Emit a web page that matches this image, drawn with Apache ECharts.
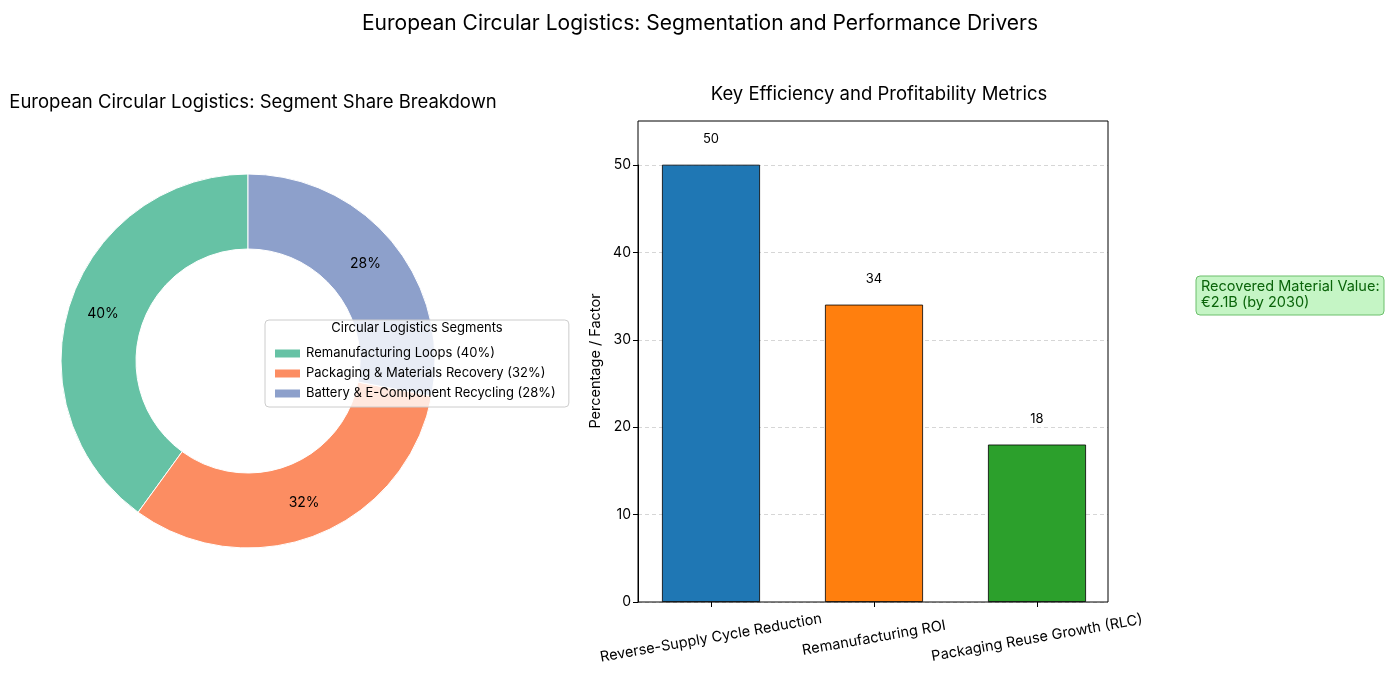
<!DOCTYPE html>
<html><head><meta charset="utf-8">
<script src="https://cdn.jsdelivr.net/npm/echarts@6/dist/echarts.min.js"></script>
<style>html,body{margin:0;padding:0;background:#fff}#c{width:1400px;height:700px}</style>
</head><body><div id="c"></div>
<script>
const segmentNames = ['Remanufacturing Loops (40%)', 'Packaging & Materials Recovery (32%)', 'Battery & E-Component Recycling (28%)'];
const segmentShares = [40, 32, 28];
const segmentColors = ['#66c2a5', '#fc8d62', '#8da0cb'];
const metricNames = ['Reverse-Supply Cycle Reduction', 'Remanufacturing ROI', 'Packaging Reuse Growth (RLC)'];
const metricValues = [50, 34, 18];
const metricColors = ['#1f77b4', '#ff7f0e', '#2ca02c'];

const FONT = 'Inter';
const chart = echarts.init(document.getElementById('c'));
chart.setOption({
  animation: false,
  textStyle: { fontFamily: FONT },
  title: [
    { text: 'European Circular Logistics: Segmentation and Performance Drivers', left: 'center', top: 8,
      textStyle: { fontSize: 21, fontWeight: 'normal', color: '#000', fontFamily: FONT } },
    { text: 'European Circular Logistics: Segment Share Breakdown', left: 248, textAlign: 'center', top: 88,
      textStyle: { fontSize: 18.5, fontWeight: 'normal', color: '#000', fontFamily: FONT } },
    { text: 'Key Efficiency and Profitability Metrics', left: 874, textAlign: 'center', top: 80,
      textStyle: { fontSize: 18.5, fontWeight: 'normal', color: '#000', fontFamily: FONT } }
  ],
  legend: {
    data: segmentNames, orient: 'vertical', left: 265, top: 320,
    itemWidth: 27, itemHeight: 10, itemGap: 7, icon: 'rect',
    padding: [27, 13, 7, 8],
    backgroundColor: 'rgba(255,255,255,0.8)', borderColor: '#cccccc', borderWidth: 1, borderRadius: 4,
    textStyle: { fontSize: 13, color: '#000', fontFamily: FONT },
    selectedMode: false, z: 10
  },
  grid: [
    { left: 638, top: 165, width: 470, height: 437 },
    { left: 629.5, top: 121, width: 489, height: 481 }
  ],
  xAxis: [
    { gridIndex: 0, type: 'value', min: 0, max: 1, show: false },
    { gridIndex: 1, type: 'category', data: metricNames,
      axisLine: { show: false },
      axisTick: { show: true, alignWithLabel: true, length: 5, lineStyle: { color: '#000' } },
      axisLabel: { rotate: 10, align: 'center', verticalAlign: 'middle', margin: 36, fontSize: 14.5, color: '#000', fontFamily: FONT, interval: 0 } }
  ],
  yAxis: [
    { gridIndex: 0, type: 'value', min: 0, max: 50, interval: 10,
      axisLine: { show: true, lineStyle: { color: '#000' } },
      axisTick: { show: true, length: 5, lineStyle: { color: '#000' } },
      axisLabel: { fontSize: 14, color: '#000', margin: 7, fontFamily: FONT },
      splitLine: { show: true, lineStyle: { color: '#cccccc', type: [4, 3], width: 0.8 } } },
    { gridIndex: 1, type: 'value', min: 0, max: 55, show: false }
  ],
  series: [
    {
      type: 'pie', center: [248, 361], radius: [112, 187], startAngle: 90, clockwise: false,
      data: segmentNames.map((n, i) => ({ name: n, value: segmentShares[i], itemStyle: { color: segmentColors[i] } })),
      itemStyle: { borderColor: '#fff', borderWidth: 1 },
      label: { show: true, position: 'inside', formatter: p => p.value + '%', fontSize: 14, color: '#000', fontFamily: FONT },
      labelLine: { show: false }, emphasis: { disabled: true }, z: 1
    },
    {
      type: 'bar', xAxisIndex: 1, yAxisIndex: 1, barWidth: 98,
      data: metricValues.map((v, i) => ({ value: v, itemStyle: { color: metricColors[i] } })),
      itemStyle: { borderColor: '#000', borderWidth: 0.8 },
      label: { show: true, position: 'top', distance: 19, fontSize: 13, color: '#000', fontFamily: FONT },
      z: 3
    }
  ],
  graphic: [
    { type: 'text', x: 417, y: 322, z: 100, style: { text: 'Circular Logistics Segments', fontSize: 13, fill: '#000', fontFamily: FONT, textAlign: 'center' } },
    { type: 'text', x: 596, y: 361, rotation: Math.PI / 2, z: 100,
      style: { text: 'Percentage / Factor', fontSize: 14.5, fill: '#000', fontFamily: FONT, textAlign: 'center', textVerticalAlign: 'middle' } },
    { type: 'rect', x: 638, y: 121, z: 60, silent: true, shape: { width: 470, height: 481 },
      style: { fill: 'none', stroke: '#000', lineWidth: 1 } },
    { type: 'rect', x: 1196, y: 276, z: 50, shape: { width: 188, height: 39, r: 4 },
      style: { fill: '#c5f5c5', stroke: '#6cbf6c', lineWidth: 1 } },
    { type: 'text', x: 1201, y: 279, z: 51,
      style: { text: 'Recovered Material Value:\n€2.1B (by 2030)', fontSize: 14.5, lineHeight: 16, fill: '#0a640a', fontFamily: FONT } }
  ]
});
</script></body></html>
